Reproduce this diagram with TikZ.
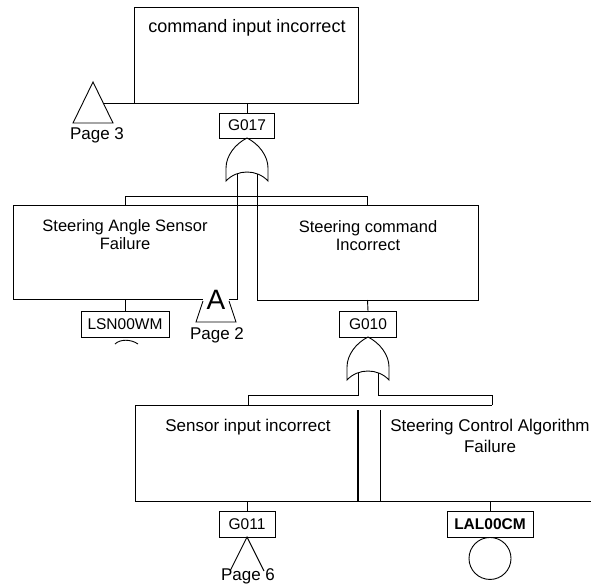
\documentclass[tikz,border=0pt]{standalone}
\usepackage{fontspec}
\setmainfont{Liberation Sans}
\begin{document}
\begin{tikzpicture}[x=1pt,y=-1pt,line width=0.9pt,
  evt/.style={draw, rectangle, inner sep=0pt, outer sep=0pt},
  txt/.style={font=\fontsize{16.5}{18}\selectfont, align=center, inner sep=0pt, anchor=base},
  tag/.style={draw, rectangle, inner sep=0pt, outer sep=0pt, font=\fontsize{15.5}{17}\selectfont},
  pg/.style={font=\fontsize{17}{19}\selectfont, inner sep=0pt, anchor=base},
  orgate/.pic={
    \draw (0,0) .. controls (-12,6) and (-21,18) .. (-21,30) -- (-21,43)
          .. controls (-10,31) and (10,31) .. (21,43) -- (21,30)
          .. controls (21,18) and (12,6) .. cycle;
    \coordinate (-out) at (0,0);
    \coordinate (-in1) at (-10,36);
    \coordinate (-in2) at (10,36);
  }]
\useasboundingbox[fill=white] (0,0) rectangle (591,587);

% ---------- top event and transfer to page 3 ----------
\node[evt, minimum width=224pt, minimum height=96pt] (top) at (246,55) {};
\node[txt, font=\fontsize{18}{20}\selectfont] (toptxt) at (247,32) {command input incorrect};
\node[tag, minimum width=55pt, minimum height=25pt] (g017) at (247,125.5) {G017};
\draw (g017.north |- top.south) -- (g017.north);
\draw (93,82) -- (73,123) -- (113,123) -- cycle;
\coordinate (p3) at (103,103);
\draw (p3) -- (top.south west);
\node[pg] (p3txt) at (97,139) {Page 3};

% ---------- OR gate G017 ----------
\pic (or1) at (247,138) {orgate};

% ---------- second level events ----------
\node[evt, minimum width=224pt, minimum height=94pt] (sa) at (125,252) {};
\node[evt, minimum width=221pt, minimum height=95pt] (sc) at (367.5,252.5) {};
\draw (sa.north east) -- (sc.north west);
\draw (sa.north) -- ++(0,-9) -| (sc.north);
\draw (or1-in1) -- (or1-in1 |- sa.south);
\draw (or1-in2) -- (or1-in2 |- sc.south);
\node[txt] (satxt) at (125,249) {Steering Angle Sensor\\Failure};
\node[txt] (sctxt) at (368,250) {Steering command\\Incorrect};

% basic event under the sensor failure
\node[tag, minimum width=88pt, minimum height=26pt] (lsn) at (125,324) {LSN00WM};
\draw (sa.south) -- (lsn.north);
\draw (115,344) .. controls (120,339) and (131,339) .. (138,344);

% transfer triangle A to page 2
\node[font=\fontsize{28}{28}\selectfont, fill=white, inner sep=0pt, minimum width=26pt] (xa) at (216,300) {A};
\draw (203,301) -- (196,322) -- (236,322) -- (229,301);
\node[pg] (p2txt) at (217,339) {Page 2};

% ---------- OR gate G010 ----------
\node[tag, minimum width=57pt, minimum height=26pt] (g010) at (368,324) {G010};
\draw (sc.south) -- (g010.north);
\pic (or2) at (368,337) {orgate};

% ---------- third level events ----------
\coordinate (b1) at (248,405);
\coordinate (b2) at (492,405);
\draw (or2-in1) |- (b1 |- 0,395) -- (b1);
\draw (or2-in2) |- (b2 |- 0,395) -- (b2);
\draw (b2) -- (135,405) -- (135,501) -- (591,501);
\draw[line width=2.4pt] (358,410) -- (358,501);
\draw (380,410) -- (380,501);
\node[txt, font=\fontsize{17}{21}\selectfont] (sitxt) at (248,431) {Sensor input incorrect};
\node[txt, font=\fontsize{17}{21}\selectfont] (catxt) at (490,452) {Steering Control Algorithm\\Failure};

% transfer to page 6
\node[tag, minimum width=56pt, minimum height=26pt] (g011) at (247,524) {G011};
\draw (g011.north |- 0,501) -- (g011.north);
\draw (230,571) -- (g011.south) -- (264,571);
\node[pg] (p6txt) at (248,580) {Page 6};

% basic event: control algorithm
\node[tag, minimum width=86pt, minimum height=26pt, font=\fontsize{15.5}{17}\selectfont\bfseries] (lal) at (490,524) {LAL00CM};
\draw (lal.north |- 0,501) -- (lal.north);
\node[draw, circle, minimum size=42pt, inner sep=0pt, anchor=north] (lalc) at (lal.south) {};
\end{tikzpicture}
\end{document}
